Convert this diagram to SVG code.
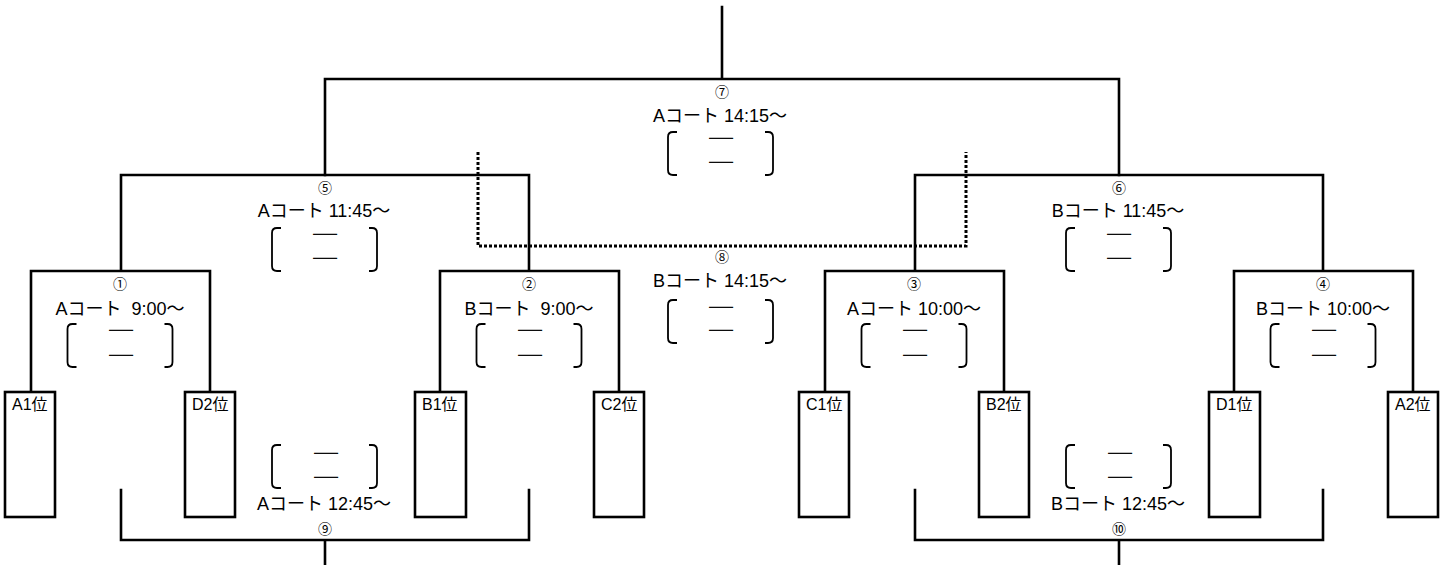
<svg xmlns="http://www.w3.org/2000/svg" xmlns:xlink="http://www.w3.org/1999/xlink" width="1455" height="565" viewBox="0 0 1455 565">
<style>
.ln{fill:none;stroke:#000;stroke-width:2.6;stroke-linecap:square}
.dot{fill:none;stroke:#000;stroke-width:3;stroke-dasharray:3 2}
.box{fill:#fff;stroke:#000;stroke-width:2.6}
.brk{fill:none;stroke:#000;stroke-width:1.8}
text{font-family:"Liberation Sans","Noto Sans CJK JP",sans-serif;fill:#000}
.lbl{font-size:18px;text-anchor:middle}
.num{font-family:"Noto Sans CJK JP",sans-serif;font-size:14px;text-anchor:middle}
.dash{font-family:"Noto Sans CJK JP",sans-serif;font-size:16px;text-anchor:middle;font-weight:bold;stroke:#000;stroke-width:0.5}
.team{font-size:16px}
</style>
<defs>
<g id="br"><path class="brk" d="M-44,0 H-48 Q-53,0 -53,5 V38 Q-53,43 -48,43 H-44 M44,0 H47 Q52,0 52,5 V38 Q52,43 47,43 H44"/></g>
</defs>
<rect width="1455" height="565" fill="#fff"/>
<g id="connectors">
<path class="ln" d="M722,7 V79 M325,175 V79 H1119 V175"/>
<path class="ln" d="M121,271 V175 H529 V271 M31,392 V271 H210 V392 M440,392 V271 H619 V392"/>
<path class="ln" d="M915,271 V175 H1323 V271 M825,392 V271 H1004 V392 M1234,392 V271 H1413 V392"/>
<path class="ln" d="M121,490 V540 H529 V490 M325,540 V565"/>
<path class="ln" d="M915,490 V540 H1323 V490 M1119,540 V565"/>
<path class="dot" d="M478,152 V246 H966 V152"/>
</g>
<g id="team-A1"><rect class="box" x="5" y="392" width="50" height="125"/><text class="team" x="12" y="410">A1位</text></g>
<g id="team-D2"><rect class="box" x="185" y="392" width="50" height="125"/><text class="team" x="192" y="410">D2位</text></g>
<g id="team-B1"><rect class="box" x="415" y="392" width="51" height="125"/><text class="team" x="422" y="410">B1位</text></g>
<g id="team-C2"><rect class="box" x="594" y="392" width="50" height="125"/><text class="team" x="601" y="410">C2位</text></g>
<g id="team-C1"><rect class="box" x="799" y="392" width="50" height="125"/><text class="team" x="806" y="410">C1位</text></g>
<g id="team-B2"><rect class="box" x="979" y="392" width="50" height="125"/><text class="team" x="986" y="410">B2位</text></g>
<g id="team-D1"><rect class="box" x="1209" y="392" width="51" height="125"/><text class="team" x="1216" y="410">D1位</text></g>
<g id="team-A2"><rect class="box" x="1388" y="392" width="50" height="125"/><text class="team" x="1395" y="410">A2位</text></g>
<g id="match-1"><text class="num" x="120" y="289">①</text><text class="lbl" x="120" y="315" xml:space="preserve">Aコート  9:00～</text><use xlink:href="#br" x="120.5" y="324"/><text class="dash" transform="translate(121,0) scale(1.7,1)" x="0" y="336">―<tspan x="0" dy="25">―</tspan></text></g>
<g id="match-2"><text class="num" x="529" y="289">②</text><text class="lbl" x="529" y="315" xml:space="preserve">Bコート  9:00～</text><use xlink:href="#br" x="529.5" y="324"/><text class="dash" transform="translate(530,0) scale(1.7,1)" x="0" y="336">―<tspan x="0" dy="25">―</tspan></text></g>
<g id="match-3"><text class="num" x="914" y="289">③</text><text class="lbl" x="914" y="315">Aコート 10:00～</text><use xlink:href="#br" x="914.5" y="324"/><text class="dash" transform="translate(915,0) scale(1.7,1)" x="0" y="336">―<tspan x="0" dy="25">―</tspan></text></g>
<g id="match-4"><text class="num" x="1323" y="289">④</text><text class="lbl" x="1323" y="315">Bコート 10:00～</text><use xlink:href="#br" x="1323.5" y="324"/><text class="dash" transform="translate(1324,0) scale(1.7,1)" x="0" y="336">―<tspan x="0" dy="25">―</tspan></text></g>
<g id="match-5"><text class="num" x="325" y="193">⑤</text><text class="lbl" x="324" y="217">Aコート 11:45～</text><use xlink:href="#br" x="325" y="228"/><text class="dash" transform="translate(325,0) scale(1.7,1)" x="0" y="240">―<tspan x="0" dy="24">―</tspan></text></g>
<g id="match-6"><text class="num" x="1119" y="193">⑥</text><text class="lbl" x="1118" y="217">Bコート 11:45～</text><use xlink:href="#br" x="1119" y="228"/><text class="dash" transform="translate(1119,0) scale(1.7,1)" x="0" y="240">―<tspan x="0" dy="24">―</tspan></text></g>
<g id="match-7"><text class="num" x="722" y="97">⑦</text><text class="lbl" x="720" y="122">Aコート 14:15～</text><use xlink:href="#br" x="721" y="132"/><text class="dash" transform="translate(721,0) scale(1.7,1)" x="0" y="144">―<tspan x="0" dy="24">―</tspan></text></g>
<g id="match-8"><text class="num" x="722" y="262">⑧</text><text class="lbl" x="720" y="287">Bコート 14:15～</text><use xlink:href="#br" x="721" y="300"/><text class="dash" transform="translate(721,0) scale(1.7,1)" x="0" y="313">―<tspan x="0" dy="23">―</tspan></text></g>
<g id="match-9"><use xlink:href="#br" x="325" y="445"/><text class="dash" transform="translate(326,0) scale(1.7,1)" x="0" y="459">―<tspan x="0" dy="24">―</tspan></text><text class="lbl" x="324" y="510">Aコート 12:45～</text><text class="num" x="325" y="534">⑨</text></g>
<g id="match-10"><use xlink:href="#br" x="1119" y="445"/><text class="dash" transform="translate(1120,0) scale(1.7,1)" x="0" y="459">―<tspan x="0" dy="24">―</tspan></text><text class="lbl" x="1118" y="510">Bコート 12:45～</text><text class="num" x="1119" y="534">⑩</text></g>
</svg>
